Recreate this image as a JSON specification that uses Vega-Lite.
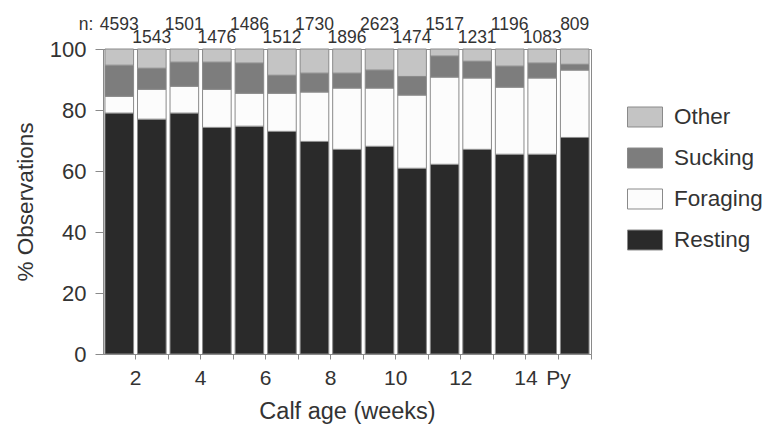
{
  "$schema": "https://vega.github.io/schema/vega-lite/v6.json",
  "width": 488,
  "height": 305,
  "autosize": {"type": "none"},
  "padding": {"left": 103, "top": 49, "right": 175, "bottom": 75},
  "background": "white",
  "config": {
    "font": "Liberation Sans",
    "view": {"stroke": "#8a8a8a", "strokeWidth": 1},
    "axis": {"labelColor": "#333333", "titleColor": "#333333", "domainColor": "#8a8a8a", "tickColor": "#8a8a8a", "labelFont": "Liberation Sans", "titleFont": "Liberation Sans", "titleFontWeight": "normal", "grid": false}
  },
  "datasets": {
    "pct": [
      {"week": "1", "behaviour": "Resting", "pct": 79},
      {"week": "1", "behaviour": "Foraging", "pct": 5.5},
      {"week": "1", "behaviour": "Sucking", "pct": 10.2},
      {"week": "1", "behaviour": "Other", "pct": 5.3},
      {"week": "2", "behaviour": "Resting", "pct": 77},
      {"week": "2", "behaviour": "Foraging", "pct": 9.8},
      {"week": "2", "behaviour": "Sucking", "pct": 6.9},
      {"week": "2", "behaviour": "Other", "pct": 6.3},
      {"week": "3", "behaviour": "Resting", "pct": 79},
      {"week": "3", "behaviour": "Foraging", "pct": 8.8},
      {"week": "3", "behaviour": "Sucking", "pct": 7.9},
      {"week": "3", "behaviour": "Other", "pct": 4.3},
      {"week": "4", "behaviour": "Resting", "pct": 74.3},
      {"week": "4", "behaviour": "Foraging", "pct": 12.5},
      {"week": "4", "behaviour": "Sucking", "pct": 8.9},
      {"week": "4", "behaviour": "Other", "pct": 4.3},
      {"week": "5", "behaviour": "Resting", "pct": 74.7},
      {"week": "5", "behaviour": "Foraging", "pct": 10.8},
      {"week": "5", "behaviour": "Sucking", "pct": 9.9},
      {"week": "5", "behaviour": "Other", "pct": 4.6},
      {"week": "6", "behaviour": "Resting", "pct": 73},
      {"week": "6", "behaviour": "Foraging", "pct": 12.5},
      {"week": "6", "behaviour": "Sucking", "pct": 5.9},
      {"week": "6", "behaviour": "Other", "pct": 8.6},
      {"week": "7", "behaviour": "Resting", "pct": 69.7},
      {"week": "7", "behaviour": "Foraging", "pct": 16.2},
      {"week": "7", "behaviour": "Sucking", "pct": 6.2},
      {"week": "7", "behaviour": "Other", "pct": 7.9},
      {"week": "8", "behaviour": "Resting", "pct": 67.1},
      {"week": "8", "behaviour": "Foraging", "pct": 20.1},
      {"week": "8", "behaviour": "Sucking", "pct": 4.9},
      {"week": "8", "behaviour": "Other", "pct": 7.9},
      {"week": "9", "behaviour": "Resting", "pct": 68.1},
      {"week": "9", "behaviour": "Foraging", "pct": 19.1},
      {"week": "9", "behaviour": "Sucking", "pct": 5.9},
      {"week": "9", "behaviour": "Other", "pct": 6.9},
      {"week": "10", "behaviour": "Resting", "pct": 60.9},
      {"week": "10", "behaviour": "Foraging", "pct": 24},
      {"week": "10", "behaviour": "Sucking", "pct": 6.1},
      {"week": "10", "behaviour": "Other", "pct": 9},
      {"week": "11", "behaviour": "Resting", "pct": 62.2},
      {"week": "11", "behaviour": "Foraging", "pct": 28.6},
      {"week": "11", "behaviour": "Sucking", "pct": 6.9},
      {"week": "11", "behaviour": "Other", "pct": 2.3},
      {"week": "12", "behaviour": "Resting", "pct": 67.1},
      {"week": "12", "behaviour": "Foraging", "pct": 23.4},
      {"week": "12", "behaviour": "Sucking", "pct": 5.5},
      {"week": "12", "behaviour": "Other", "pct": 4},
      {"week": "13", "behaviour": "Resting", "pct": 65.5},
      {"week": "13", "behaviour": "Foraging", "pct": 22},
      {"week": "13", "behaviour": "Sucking", "pct": 6.9},
      {"week": "13", "behaviour": "Other", "pct": 5.6},
      {"week": "14", "behaviour": "Resting", "pct": 65.5},
      {"week": "14", "behaviour": "Foraging", "pct": 25},
      {"week": "14", "behaviour": "Sucking", "pct": 4.9},
      {"week": "14", "behaviour": "Other", "pct": 4.6},
      {"week": "Py", "behaviour": "Resting", "pct": 71},
      {"week": "Py", "behaviour": "Foraging", "pct": 22.1},
      {"week": "Py", "behaviour": "Sucking", "pct": 1.9},
      {"week": "Py", "behaviour": "Other", "pct": 5}
    ],
    "counts": [
      {"week": "1", "n": 4593},
      {"week": "2", "n": 1543},
      {"week": "3", "n": 1501},
      {"week": "4", "n": 1476},
      {"week": "5", "n": 1486},
      {"week": "6", "n": 1512},
      {"week": "7", "n": 1730},
      {"week": "8", "n": 1896},
      {"week": "9", "n": 2623},
      {"week": "10", "n": 1474},
      {"week": "11", "n": 1517},
      {"week": "12", "n": 1231},
      {"week": "13", "n": 1196},
      {"week": "14", "n": 1083},
      {"week": "Py", "n": 809}
    ]
  },
  "layer": [
    {
      "data": {"name": "pct"},
      "transform": [
        {"calculate": "indexof(['Resting','Foraging','Sucking','Other'], datum.behaviour)", "as": "stackOrder"}
      ],
      "mark": {"type": "bar", "stroke": "#8a8a8a", "strokeWidth": 1},
      "encoding": {
        "x": {
          "field": "week",
          "type": "ordinal",
          "scale": {"domain": ["1","2","3","4","5","6","7","8","9","10","11","12","13","14","Py"], "paddingInner": 0.12, "paddingOuter": 0.06},
          "axis": {
            "title": "Calf age (weeks)",
            "titleFontSize": 23.5,
            "titlePadding": 11,
            "labelFontSize": 21,
            "labelAngle": 0,
            "labelPadding": 8,
            "tickSize": 5,
            "bandPosition": 1.07,
            "tickExtra": false,
            "labelOffset": -16.3,
            "labelExpr": "indexof(['2','4','6','8','10','12','14','Py'], datum.label) >= 0 ? datum.label : ''"
          }
        },
        "y": {
          "field": "pct",
          "type": "quantitative",
          "stack": "zero",
          "scale": {"domain": [0, 100], "nice": false},
          "axis": {
            "title": "% Observations",
            "titleFontSize": 22.5,
            "titlePadding": 12,
            "labelFontSize": 22,
            "labelPadding": 9,
            "tickSize": 8,
            "values": [0, 20, 40, 60, 80, 100]
          }
        },
        "order": {"field": "stackOrder", "type": "quantitative", "sort": "ascending"},
        "color": {
          "field": "behaviour",
          "type": "nominal",
          "scale": {"domain": ["Other", "Sucking", "Foraging", "Resting"], "range": ["#c4c4c4", "#7d7d7d", "#fcfcfc", "#2a2a2a"]},
          "legend": {
            "title": null,
            "orient": "none",
            "legendX": 524,
            "legendY": 50,
            "padding": 0,
            "symbolType": "M-1,-0.571H1V0.571H-1Z",
            "symbolSize": 1225,
            "symbolStrokeColor": "#8a8a8a",
            "symbolStrokeWidth": 1,
            "symbolOpacity": 1,
            "labelFontSize": 22.5,
            "labelFont": "Liberation Sans",
            "labelColor": "#333333",
            "labelOffset": 11,
            "rowPadding": 11,
            "labelLimit": 200
          }
        }
      }
    },
    {
      "data": {"name": "counts"},
      "transform": [{"filter": "indexof(['1','3','5','7','9','11','13','Py'], datum.week) >= 0"}],
      "mark": {"type": "text", "fontSize": 17.5, "color": "#333333", "baseline": "alphabetic", "dy": -19},
      "encoding": {
        "x": {"field": "week", "type": "ordinal"},
        "y": {"datum": 100, "type": "quantitative"},
        "text": {"field": "n", "type": "quantitative", "format": "d"}
      }
    },
    {
      "data": {"name": "counts"},
      "transform": [{"filter": "indexof(['1','3','5','7','9','11','13','Py'], datum.week) < 0"}],
      "mark": {"type": "text", "fontSize": 17.5, "color": "#333333", "baseline": "alphabetic", "dy": -6},
      "encoding": {
        "x": {"field": "week", "type": "ordinal"},
        "y": {"datum": 100, "type": "quantitative"},
        "text": {"field": "n", "type": "quantitative", "format": "d"}
      }
    },
    {
      "data": {"values": [{"week": "1", "label": "n:"}]},
      "mark": {"type": "text", "fontSize": 17.5, "color": "#333333", "baseline": "alphabetic", "align": "right", "dy": -19, "dx": -26},
      "encoding": {
        "x": {"field": "week", "type": "ordinal"},
        "y": {"datum": 100, "type": "quantitative"},
        "text": {"field": "label"}
      }
    }
  ]
}
